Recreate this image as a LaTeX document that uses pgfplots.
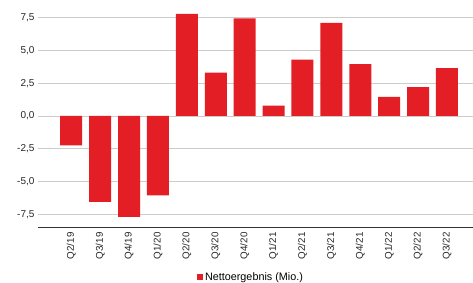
\documentclass[border=0pt]{standalone}
\usepackage{pgfplots}
\pgfplotsset{compat=1.18}
\usepackage{fontspec}
\setmainfont{Liberation Sans}
\definecolor{barred}{HTML}{E31E24}
\definecolor{gridgray}{HTML}{CCCCCC}
\begin{document}
\begin{tikzpicture}
\path[use as bounding box] (-38pt,-55pt) rectangle (435pt,227pt);
\begin{axis}[
  at={(0,0)}, anchor=south west,
  scale only axis,
  width=435pt, height=227pt,
  xmin=-1.15, xmax=13.9,
  ymin=-8.47, ymax=8.85,
  ybar, bar width=22pt,
  axis line style={draw=none},
  axis x line*=bottom,
  x axis line style={draw=black!80, line width=0.9pt},
  xtick={0,...,13},
  xticklabels={Q2/19,Q3/19,Q4/19,Q1/20,Q2/20,Q3/20,Q4/20,Q1/21,Q2/21,Q3/21,Q4/21,Q1/22,Q2/22,Q3/22},
  xticklabel style={rotate=90, anchor=east, font=\fontsize{9.8}{11}\selectfont, text=black!85},
  x tick style={draw=white, line width=0.6pt},
  major tick length=2pt,
  xtick pos=bottom,
  ytick={-7.5,-5,-2.5,0,2.5,5,7.5},
  ytick style={draw=none},
  yticklabel style={font=\fontsize{10}{11}\selectfont, text=black!85},
  /pgf/number format/assume math mode=true,
  yticklabel={\pgfmathprintnumber[fixed, fixed zerofill, precision=1, use comma]{\tick}},
  ymajorgrids, grid style={gridgray, line width=0.8pt},
  legend style={at={(0.49,-0.22)}, anchor=center, draw=none, inner sep=1pt, font=\fontsize{10.8}{12}\selectfont},
]
\addplot[fill=barred, draw=none, bar shift=0pt,
  legend image code/.code={\fill[barred] (0cm,-0.1cm) rectangle (0.2cm,0.1cm);}] coordinates {
(0,-2.25) (1,-6.55) (2,-7.7) (3,-6.05) (4,7.8) (5,3.3) (6,7.45) (7,0.8) (8,4.3) (9,7.1) (10,3.95) (11,1.45) (12,2.2) (13,3.65)
};
\addlegendentry{Nettoergebnis (Mio.)}
\end{axis}
\end{tikzpicture}
\end{document}
